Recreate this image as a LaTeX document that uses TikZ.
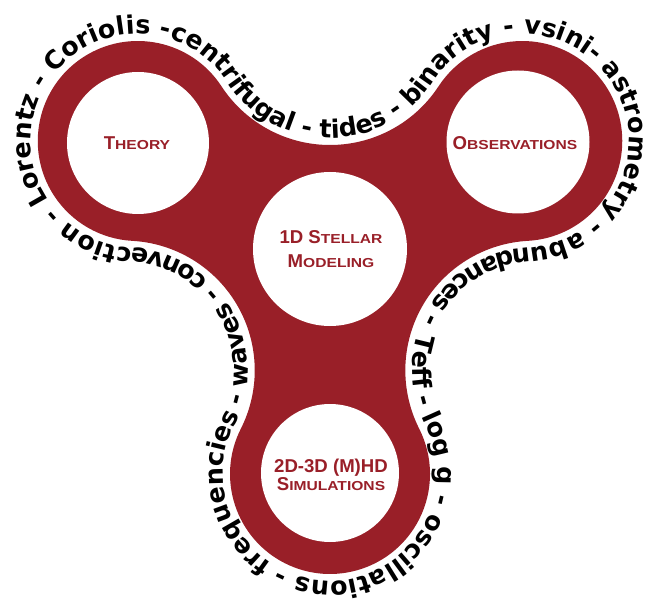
\documentclass[tikz,border=0pt]{standalone}
\usepackage{fontspec}
\usetikzlibrary{decorations.text}
\newfontfamily\ringfont{DejaVu Sans}
\newfontfamily\capfont{Liberation Sans Bold}
\newfontfamily\scfont[FakeStretch=1.2]{Liberation Sans Bold}
\definecolor{spin}{RGB}{153,31,40}
\newcommand\lbA[1]{{\capfont\fontsize{18.6}{20}\selectfont #1}}
\newcommand\lbB[1]{{\scfont\fontsize{13}{20}\selectfont #1}}
\tikzset{
  hole/.style={circle, fill=white, draw=none, inner sep=0pt},
  lbl/.style={text=spin, align=center, inner sep=0pt},
}
\begin{document}
\begin{tikzpicture}[x=1pt,y=1pt]
\fill[white] (-330,-350) rectangle (320,252);
\useasboundingbox (-330,-350) rectangle (320,252);
% spinner body
\fill[spin] (197.81,11.15)
  arc[start angle=-86.82, end angle=146.82, radius=100]
  arc[start angle=326.82, end angle=213.18, radius=129.7]
  arc[start angle=33.18, end angle=266.82, radius=100]
  arc[start angle=86.82, end angle=-26.82, radius=129.7]
  arc[start angle=153.18, end angle=386.82, radius=100]
  arc[start angle=206.82, end angle=93.18, radius=129.7] -- cycle;
% holes
\node[hole, minimum size=142pt] (theory) at (-192,109) {};
\node[hole, minimum size=143pt] (obs) at (188,110) {};
\node[hole, minimum size=154pt] (model) at (0,3) {};
\node[hole, minimum size=138pt] (sim) at (0,-221) {};
% labels
\node[lbl] (theoryl) at (-193,109) {\lbA{T}\lbB{HEORY}};
\node[lbl] (obsl) at (185,109) {\lbA{O}\lbB{BSERVATIONS}};
\node[lbl, font=\fontsize{13}{24}\selectfont] (modell) at (1,3.3) {\lbA{1D S}\lbB{TELLAR}\\\lbA{M}\lbB{ODELING}};
\node[lbl, font=\fontsize{13}{17.4}\selectfont] (siml) at (1,-223) {\lbA{2D-3D (M)HD}\\\lbA{S}\lbB{IMULATIONS}};
% ring text
\path[decorate, decoration={text along path,
  text={|\ringfont\bfseries\fontsize{25.4}{25.4}\selectfont|Teff - log g - oscillations - frequencies - waves - convection - Lorentz - Coriolis -centrifugal - tides - binarity - vsini- astrometry - abundances - }}]
  (88.02,-81.25)
  arc[start angle=162.4, end angle=206.82, radius=122.7]
  arc[start angle=26.82, end angle=-206.82, radius=107]
  arc[start angle=-26.82, end angle=86.82, radius=122.7]
  arc[start angle=266.82, end angle=33.18, radius=107]
  arc[start angle=213.18, end angle=326.82, radius=122.7]
  arc[start angle=146.82, end angle=-86.82, radius=107]
  arc[start angle=93.18, end angle=162.4, radius=122.7];
\end{tikzpicture}
\end{document}
